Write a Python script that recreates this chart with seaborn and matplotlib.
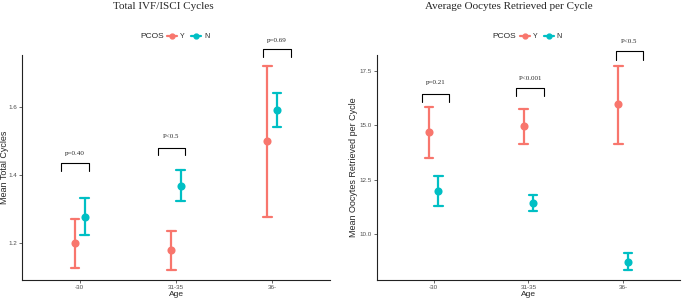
import numpy as np
import pandas as pd
import matplotlib.pyplot as plt
import seaborn as sns
from matplotlib.lines import Line2D

sns.set_style('white')
plt.rcParams['font.family'] = ['Liberation Sans', 'DejaVu Sans']

ages = ['-30', '31-35', '36-']
pcos = ['Y', 'N']
colors = {'Y': '#F8766D', 'N': '#00BFC4'}

# Total IVF/ISCI cycles: mean and interval per age group
cyc_y_mean = [1.200, 1.179, 1.500]
cyc_y_lo = [1.128, 1.121, 1.276]
cyc_y_hi = [1.270, 1.237, 1.721]
cyc_n_mean = [1.278, 1.368, 1.591]
cyc_n_lo = [1.224, 1.323, 1.542]
cyc_n_hi = [1.332, 1.415, 1.640]
cyc_p = ['p=0.40', 'P<0.5', 'p=0.69']

# Average oocytes retrieved per cycle
oo_y_mean = [14.68, 14.95, 15.97]
oo_y_lo = [13.52, 14.16, 14.16]
oo_y_hi = [15.83, 15.77, 17.74]
oo_n_mean = [11.98, 11.41, 8.73]
oo_n_lo = [11.29, 11.06, 8.34]
oo_n_hi = [12.68, 11.79, 9.11]
oo_p = ['p=0.21', 'P<0.001', 'P<0.5']


def long_df(y_lo, y_mean, y_hi, n_lo, n_mean, n_hi):
    rows = []
    for grp, vals in (('Y', (y_lo, y_mean, y_hi)), ('N', (n_lo, n_mean, n_hi))):
        for series in vals:
            for age, v in zip(ages, series):
                rows.append({'Age': age, 'PCOS': grp, 'value': v})
    return pd.DataFrame(rows)


def panel(ax, df, ylim, yticks, ylabel, label_x, labels, brackets, legend_x, pcos_x):
    sns.pointplot(data=df, x='Age', y='value', hue='PCOS', order=ages,
                  hue_order=pcos, palette=colors, estimator='median',
                  errorbar=lambda v: (v.min(), v.max()), dodge=0.1,
                  linestyle='none', capsize=0.09, markersize=3.8,
                  err_kws={'linewidth': 1.6}, legend=False, ax=ax)
    ax.set_xlim(-0.6, 2.6)
    ax.set_ylim(*ylim)
    ax.set_yticks(yticks)
    ax.set_yticklabels([f'{t:.1f}' for t in yticks])
    ax.tick_params(labelsize=4.5, colors='#4D4D4D', length=2, width=0.6,
                   pad=1.5, labelcolor='#4D4D4D')
    ax.tick_params(axis='both', which='both', left=True, bottom=True)
    for s in ['top', 'right']:
        ax.spines[s].set_visible(False)
    for s in ['left', 'bottom']:
        ax.spines[s].set_color('#222222')
        ax.spines[s].set_linewidth(0.8)
    ax.set_xlabel('Age', fontsize=6, labelpad=1)
    ax.set_ylabel(ylabel, fontsize=6.5)
    ax.yaxis.set_label_coords(label_x, 0.5)
    # significance brackets
    for i, (lab, (x0, x1, top, leg, ty)) in enumerate(zip(labels, brackets)):
        ax.plot([i + x0, i + x0, i + x1, i + x1], [leg, top, top, leg],
                color='black', lw=0.8, clip_on=False)
        ax.text(i + (x0 + x1) / 2, ty, lab, ha='center', va='center',
                fontsize=5, family='Liberation Serif', clip_on=False)
    fig.text(pcos_x, 1 - 37 / 301, 'PCOS', ha='center', va='center', fontsize=6)
    handles = [Line2D([0], [0], color=colors[g], marker='o', markersize=3.5, lw=1.6)
               for g in pcos]
    fig.legend(handles, pcos, ncol=2, frameon=False, fontsize=5,
               loc='center left', bbox_to_anchor=(legend_x, 1 - 37 / 301),
               handlelength=1.5, handletextpad=0.4, columnspacing=0.9,
               borderpad=0, borderaxespad=0)


fig = plt.figure(figsize=(6.83, 3.01), dpi=100)
ax1 = fig.add_axes([22 / 683, 21 / 301, 308 / 683, 225 / 301])
ax2 = fig.add_axes([376.7 / 683, 21 / 301, 303.3 / 683, 225 / 301])

cyc = long_df(cyc_y_lo, cyc_y_mean, cyc_y_hi, cyc_n_lo, cyc_n_mean, cyc_n_hi)
oo = long_df(oo_y_lo, oo_y_mean, oo_y_hi, oo_n_lo, oo_n_mean, oo_n_hi)

panel(ax1, cyc, (1.092, 1.753), [1.2, 1.4, 1.6], 'Mean Total Cycles',
      (9 - 22) / 308, cyc_p,
      [(-0.195, 0.093, 1.437, 1.411, 1.463),
       (-0.19, 0.097, 1.481, 1.458, 1.514),
       (-0.093, 0.195, 1.771, 1.746, 1.795)],
      167 / 683, 152 / 683)
panel(ax2, oo, (7.88, 18.24), [10.0, 12.5, 15.0, 17.5],
      'Mean Oocytes Retrieved per Cycle', (358.5 - 376.7) / 303.3, oo_p,
      [(-0.127, 0.166, 16.46, 16.09, 16.98),
       (-0.127, 0.165, 16.73, 16.35, 17.15),
       (-0.08, 0.21, 18.41, 18.03, 18.86)],
      519.5 / 683, 504.5 / 683)

fig.text(163 / 683, 1 - 2 / 301, 'Total IVF/ISCI Cycles', ha='center', va='top',
         fontsize=8, family='Liberation Serif')
fig.text(509 / 683, 1 - 2 / 301, 'Average Oocytes Retrieved per Cycle', ha='center',
         va='top', fontsize=8, family='Liberation Serif')

fig.savefig('out.png', dpi=100)
